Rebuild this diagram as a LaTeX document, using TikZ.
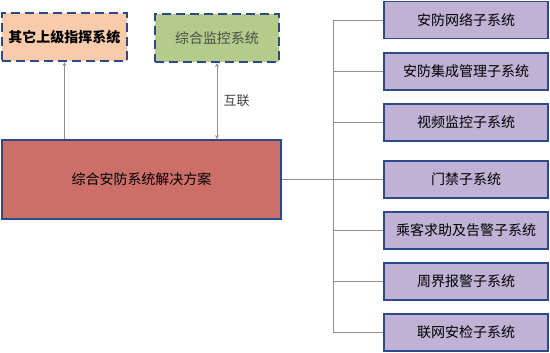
\documentclass[tikz,border=0pt]{standalone}
\usepackage{fontspec}
\setmainfont{Noto Sans CJK SC}
\usepackage{xcolor}
\usepackage{tikz}
\usetikzlibrary{positioning}

\definecolor{edgeblue}{HTML}{2C4A87}
\definecolor{peach}{HTML}{F9CBAA}
\definecolor{leafgreen}{HTML}{B5CB89}
\definecolor{brick}{HTML}{CC6F69}
\definecolor{lilac}{HTML}{BFB2D5}
\definecolor{wiregray}{HTML}{8E8E8E}

\begin{document}
\begin{tikzpicture}[x=1pt, y=-1pt,
    upbox/.style={draw=edgeblue, line width=2.2pt, dash pattern=on 9pt off 5pt, minimum height=48pt, font=\fontsize{14}{16}\selectfont},
    mainbox/.style={draw=edgeblue, line width=1.6pt, fill=brick, minimum width=279pt, minimum height=79pt, font=\fontsize{14}{16}\selectfont},
    subbox/.style={draw=edgeblue, line width=1.6pt, fill=lilac, minimum width=164pt, minimum height=37pt, font=\fontsize{14}{16}\selectfont},
    wire/.style={draw=wiregray, line width=0.8pt},
    arrow/.style={wire, ->, >=stealth}
]
    \useasboundingbox (0,0) rectangle (550,353);

    \node (upper) [upbox, fill=peach, minimum width=125pt, font=\fontsize{14}{16}\bfseries] at (64.5,37) {其它上级指挥系统};
    \node (monitor) [upbox, fill=leafgreen, minimum width=124pt, text=black!70] at (217,38) {综合监控系统};
    \node (main) [mainbox] at (141.5,179.5) {综合安防系统解决方案};

    \node (s1) [subbox] at (466,20) {安防网络子系统};
    \node (s2) [subbox] at (466,71.5) {安防集成管理子系统};
    \node (s3) [subbox] at (466,122.5) {视频监控子系统};
    \node (s4) [subbox] at (466,179.5) {门禁子系统};
    \node (s5) [subbox] at (466,230.5) {乘客求助及告警子系统};
    \node (s6) [subbox] at (466,281.5) {周界报警子系统};
    \node (s7) [subbox] at (466,332.5) {联网安检子系统};

    \coordinate (bus) at (333,0);

    \path [arrow] (main.north -| upper.south) -- (upper.south);
    \path [arrow, <->] (monitor.south) -- node[right=3pt, font=\fontsize{13}{15}\selectfont, text=black!75] {互联} (main.north -| monitor.south);

    \path [wire] (main.east) -- (main.east -| bus);
    \path [wire] (bus |- s1.west) -- (bus |- s7.west);
    \foreach \i in {1,...,7}
        \path [wire] (bus |- s\i.west) -- (s\i.west);
\end{tikzpicture}
\end{document}
